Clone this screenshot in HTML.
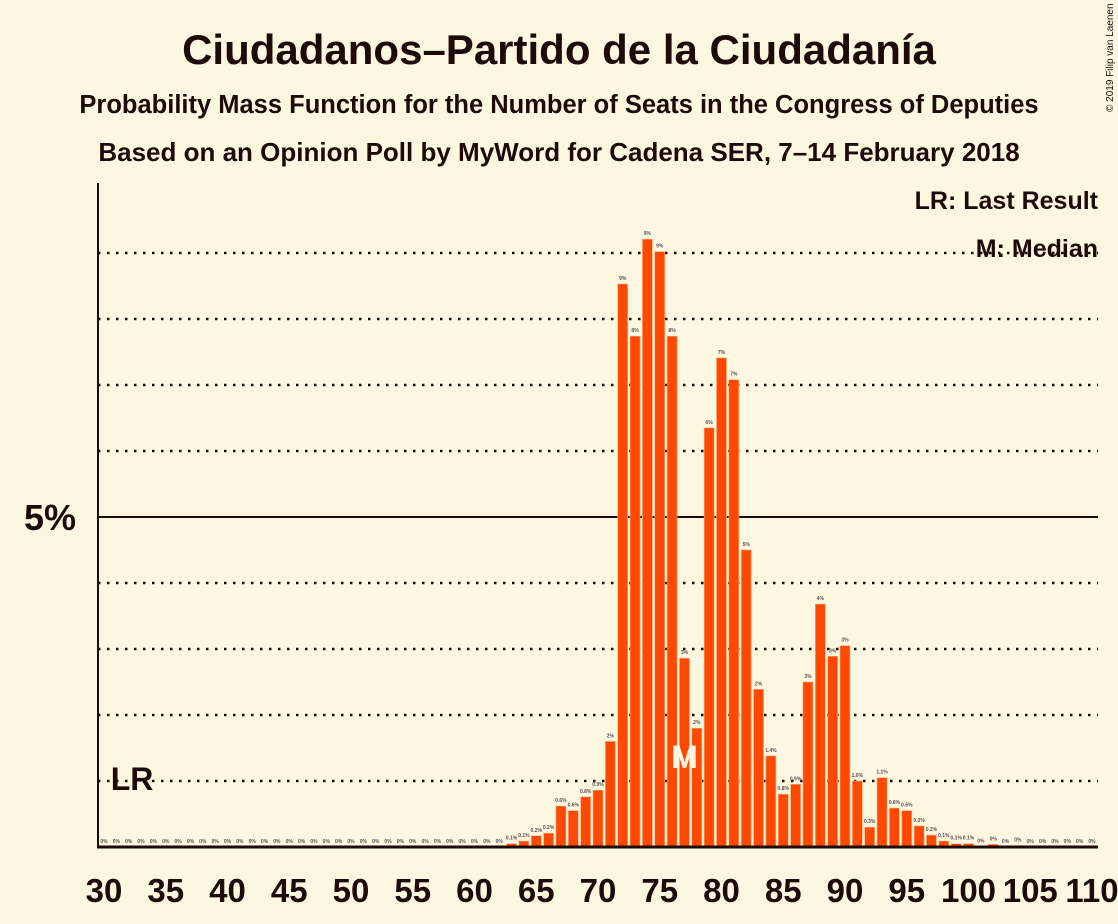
<!DOCTYPE html>
<html><head><meta charset="utf-8"><style>
html,body{margin:0;padding:0;background:#fdf6e0;}
svg{display:block;font-family:"Liberation Sans",sans-serif;}
</style></head><body>
<svg id="chart" width="1118" height="924" viewBox="0 0 1118 924" xmlns="http://www.w3.org/2000/svg">
<rect width="1118" height="924" fill="#fdf6e0"/>
<text x="559" y="64" text-anchor="middle" font-size="42" font-weight="bold" fill="#1f0a0a">Ciudadanos–Partido de la Ciudadanía</text>
<text x="559" y="113" text-anchor="middle" font-size="25.5" font-weight="bold" fill="#1f0a0a">Probability Mass Function for the Number of Seats in the Congress of Deputies</text>
<text x="559" y="161" text-anchor="middle" font-size="26" font-weight="bold" fill="#1f0a0a">Based on an Opinion Poll by MyWord for Cadena SER, 7–14 February 2018</text>
<text transform="translate(1113,112) rotate(-90)" font-size="10" fill="#1f0a0a">© 2019 Filip van Laenen</text>
<g id="grid"></g>
<g id="bars"></g>
<g id="labels"></g>
<line x1="98" y1="183" x2="98" y2="848" stroke="#1f0a0a" stroke-width="2"/>
<line x1="97" y1="847" x2="1098" y2="847" stroke="#1f0a0a" stroke-width="3"/>
<text x="76" y="530" text-anchor="end" font-size="36" font-weight="bold" fill="#1f0a0a">5%</text>
<text x="1098" y="209" text-anchor="end" font-size="25" font-weight="bold" fill="#1f0a0a">LR: Last Result</text>
<text x="1098" y="257" text-anchor="end" font-size="25" font-weight="bold" fill="#1f0a0a">M: Median</text>
<g id="xticks"></g>
</svg>
<script>
const seats = [];
for (let s = 30; s <= 110; s++) seats.push(s);
const probs = [0,0,0,0,0,0,0,0,0,0, 0,0,0,0,0,0,0,0,0,0, 0,0,0,0,0,0,0,0,0,0,
 0,0,0,0.05,0.09,0.17,0.21,0.62,0.55,0.76, 0.86,1.6,8.53,7.74,9.21,9.02,7.74,2.86,1.8,6.35,
 7.41,7.08,4.5,2.39,1.38,0.8,0.95,2.5,3.68,2.89, 3.05,1.0,0.3,1.05,0.59,0.55,0.32,0.18,0.09,0.05,
 0.05,0.01,0.04,0,0.02,0,0,0,0,0, 0];
const gridValues = [1,2,3,4,6,7,8,9];
const tickSeats = [30,35,40,45,50,55,60,65,70,75,80,85,90,95,100,105,110];
const medianSeat = 77;
const lastResultSeat = 32;

const NS = "http://www.w3.org/2000/svg";
const x = s => 104 + (s - 30) * 12.35;
const y = v => 847 - v * 66;
function mk(tag, attrs, parent) {
  const e = document.createElementNS(NS, tag);
  for (const k in attrs) e.setAttribute(k, attrs[k]);
  document.getElementById(parent).appendChild(e);
  return e;
}
gridValues.forEach(v => {
  const l = mk('line', {x1: 98, x2: 1098, y1: y(v), y2: y(v), stroke: '#1f0a0a', 'stroke-width': 2.5, 'stroke-dasharray': '2.5,6.5'}, 'grid');
  
  
});
const g5 = mk('line', {x1: 98, x2: 1098, y1: y(5), y2: y(5), stroke: '#1f0a0a', 'stroke-width': 2}, 'grid');



seats.forEach((s, i) => {
  const v = probs[i];
  if (v > 0) {
    const r = mk('rect', {x: x(s) - 5, y: y(v), width: 10, height: 847 - y(v), fill: '#ff4800', stroke: '#ffb080', 'stroke-width': 0.6}, 'bars');
    
    
  }
  let txt;
  if (v < 0.05) txt = '0%';
  else if (v < 1.5) txt = v.toFixed(1) + '%';
  else txt = Math.round(v) + '%';
  const t = mk('text', {x: x(s), y: y(v) - 4, 'text-anchor': 'middle', 'font-size': 5, 'font-weight': 'bold', fill: '#555'}, 'labels');
  t.textContent = txt;
  
  
});
const m = mk('text', {x: x(medianSeat), y: 768, 'text-anchor': 'middle', 'font-size': 32, 'font-weight': 'bold', fill: '#fdf6e0'}, 'labels');
m.textContent = 'M';


const lr = mk('text', {x: x(lastResultSeat) - 18, y: 790, 'font-size': 32, 'font-weight': 'bold', fill: '#1f0a0a'}, 'labels');
lr.textContent = 'LR';


tickSeats.forEach(s => {
  const t = mk('text', {x: x(s), y: 902, 'text-anchor': 'middle', 'font-size': 33, 'font-weight': 'bold', fill: '#1f0a0a'}, 'xticks');
  t.textContent = s;
  
  
});
</script>
</body></html>
